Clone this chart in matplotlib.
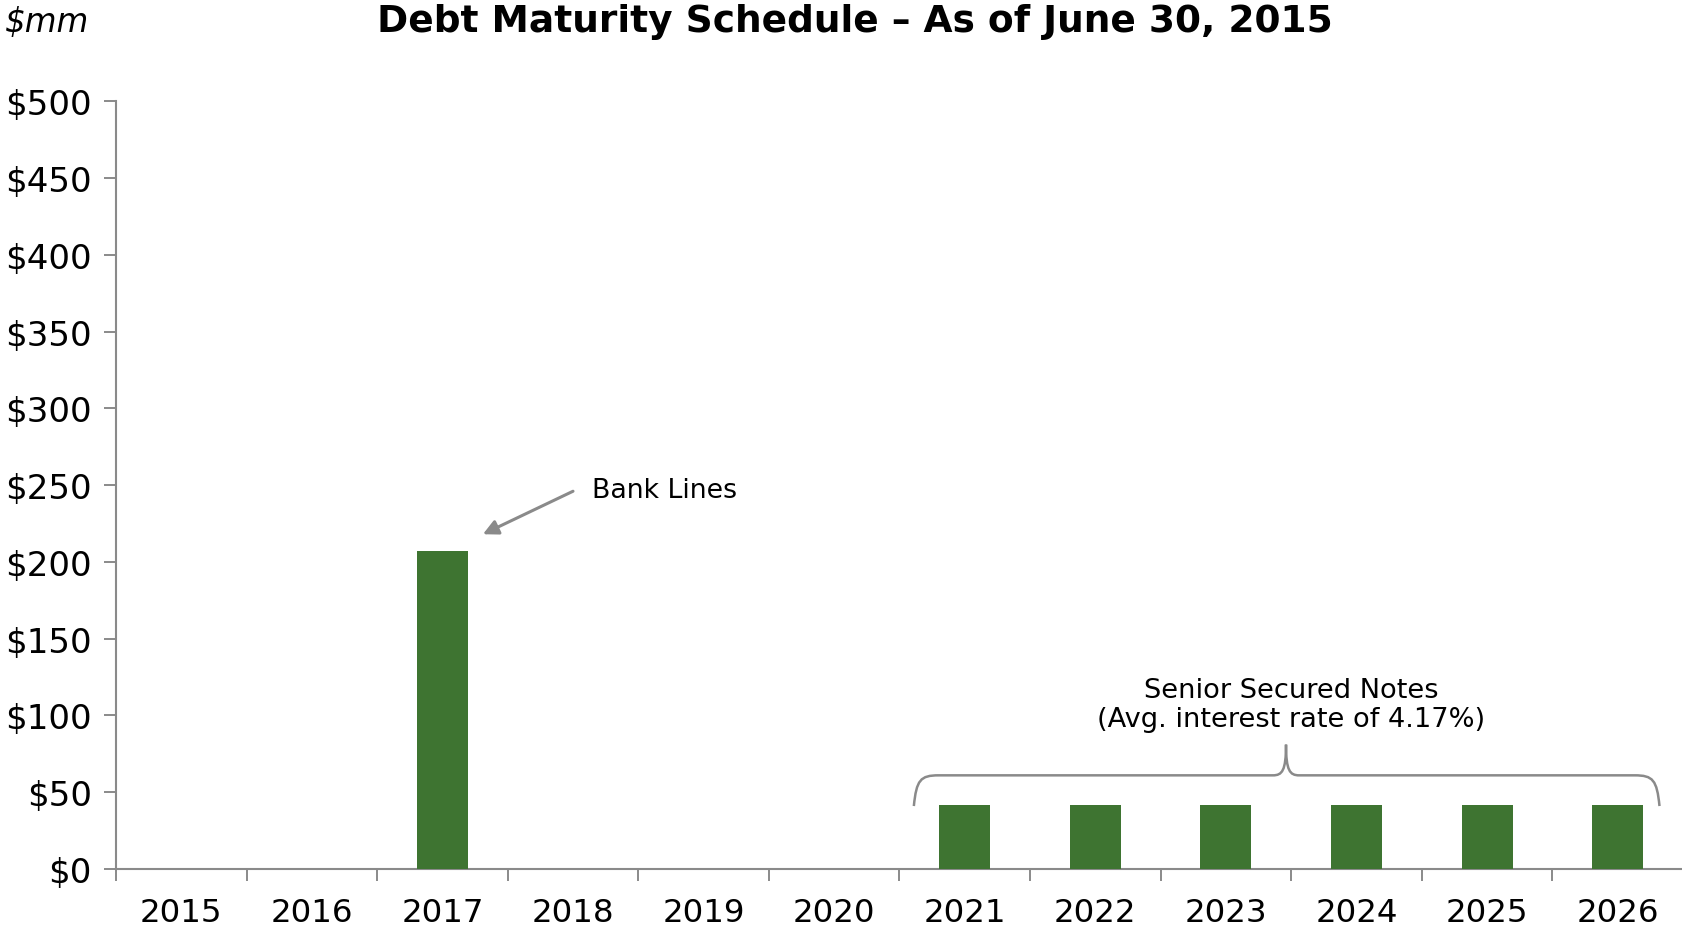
import matplotlib
matplotlib.use("Agg")
import matplotlib.pyplot as plt
from matplotlib.path import Path
from matplotlib.patches import PathPatch

# Debt maturities ($mm) by year
years = ["2015", "2016", "2017", "2018", "2019", "2020",
         "2021", "2022", "2023", "2024", "2025", "2026"]
maturities = [0, 0, 207, 0, 0, 0, 42, 42, 42, 42, 42, 42]
y_ticks = [0, 50, 100, 150, 200, 250, 300, 350, 400, 450, 500]
y_tick_labels = ["$" + str(v) for v in y_ticks]

BAR_COLOR = "#3E7431"
GREY = "#8A8A8A"

plt.rcParams["font.family"] = ["DejaVu Sans"]

fig = plt.figure(figsize=(16.83, 9.29), dpi=100)
ax = fig.add_axes([0.0689, 0.0635, 0.9311, 0.8265])

x = list(range(len(years)))
ax.bar(x, maturities, width=0.39, color=BAR_COLOR, zorder=3)

ax.set_xlim(-0.5, len(years) - 0.5)
ax.set_ylim(0, 500)

ax.set_yticks(y_ticks)
ax.set_yticklabels(y_tick_labels, fontsize=24.5)
ax.set_xticks(x)
ax.set_xticklabels(years, fontsize=23.4)
ax.set_xticks([i - 0.5 for i in range(len(years) + 1)], minor=True)

ax.tick_params(axis="x", which="major", length=0, pad=20)
ax.tick_params(axis="x", which="minor", length=8.5, width=1.4, color=GREY)
ax.tick_params(axis="y", which="major", length=8.5, width=1.4, color=GREY, pad=9)

for side in ("top", "right"):
    ax.spines[side].set_visible(False)
for side in ("left", "bottom"):
    ax.spines[side].set_color(GREY)
    ax.spines[side].set_linewidth(1.5)

# Title and unit label
fig.text(0.508, 0.976, "Debt Maturity Schedule \u2013 As of June 30, 2015",
         fontsize=27, fontweight="bold", ha="center", va="center")
fig.text(0.003, 0.976, "$mm", fontsize=23.5, fontstyle="italic",
         ha="left", va="center")

# Bank lines callout
ax.annotate("", xy=(2.31, 218), xytext=(3.0, 246),
            arrowprops=dict(arrowstyle="-|>,head_length=0.9,head_width=0.45",
                            color=GREY, lw=2.2, shrinkA=0, shrinkB=0))
ax.text(3.145, 247, "Bank Lines", fontsize=19.3, ha="left", va="center")

# Senior secured notes brace
verts = [
    (5.61, 41), (5.63, 58), (5.66, 61), (5.80, 61),
    (8.36, 61),
    (8.43, 61), (8.46, 64), (8.46, 81),
    (8.46, 64), (8.49, 61), (8.56, 61),
    (11.13, 61),
    (11.27, 61), (11.30, 58), (11.32, 41),
]
codes = [Path.MOVETO, Path.CURVE4, Path.CURVE4, Path.CURVE4,
         Path.LINETO,
         Path.CURVE4, Path.CURVE4, Path.CURVE4,
         Path.CURVE4, Path.CURVE4, Path.CURVE4,
         Path.LINETO,
         Path.CURVE4, Path.CURVE4, Path.CURVE4]
ax.add_patch(PathPatch(Path(verts, codes), facecolor="none",
                       edgecolor=GREY, lw=1.8, zorder=4, clip_on=False))
ax.text(8.5, 107, "Senior Secured Notes\n(Avg. interest rate of 4.17%)",
        fontsize=19.6, ha="center", va="center", linespacing=1.15)

fig.savefig("out.png", dpi=100)
